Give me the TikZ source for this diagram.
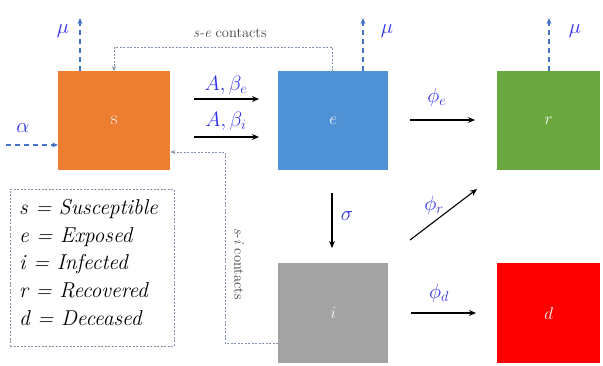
\documentclass[tikz,border=0pt]{standalone}
\usetikzlibrary{arrows.meta}
\definecolor{sorange}{HTML}{ED7D31}
\definecolor{eblue}{HTML}{4F93D6}
\definecolor{rgreen}{HTML}{6BA83F}
\definecolor{igray}{HTML}{A3A3A3}
\definecolor{dred}{HTML}{FF0000}
\definecolor{lblue}{HTML}{3030F0}
\definecolor{dblue}{HTML}{4472C4}
\definecolor{dotgray}{HTML}{8090A8}
\begin{document}
\begin{tikzpicture}[x=1pt,y=-1pt,
  box/.style={anchor=north west, inner sep=0pt, minimum height=99pt, text=white!92!gray,
    font=\fontsize{19}{21}\selectfont},
  flow/.style={-{Stealth[length=7pt,width=6pt]}, line width=1.1pt, black},
  dflow/.style={-{Stealth[length=6pt,width=5pt]}, line width=1.1pt, dblue, dash pattern=on 5pt off 4pt},
  dotline/.style={dotgray, line width=0.6pt, dash pattern=on 2pt off 1.5pt},
  dotarrow/.style={dotline, -{Stealth[length=5pt,width=4pt]}},
  lab/.style={lblue, font=\fontsize{21}{24}\selectfont, inner sep=0pt},
  small/.style={black!75, font=\fontsize{14.5}{16}\selectfont, inner sep=0pt}]
\useasboundingbox (0,0) rectangle (603,365);
% boxes
\node[box, fill=sorange, minimum width=112pt] (s) at (58,71) {s};
\node[box, fill=eblue, minimum width=110pt] (e) at (278,71) {$e$};
\node[box, fill=rgreen, minimum width=103pt] (r) at (497,71) {$r$};
\node[box, fill=igray, minimum width=110pt, minimum height=100pt] (i) at (278,263) {$i$};
\node[box, fill=dred, minimum width=103pt, minimum height=100pt] (d) at (497,263) {$d$};
% mu arrows
\coordinate (smu) at (80,18);
\coordinate (emu) at (363,18);
\coordinate (rmu) at (549,18);
\draw[dflow] (smu |- s.north) -- (smu);
\draw[dflow] (emu |- e.north) -- (emu);
\draw[dflow] (rmu |- r.north) -- (rmu);
\node[lab] (smul) at (63,31) {$\mu$};
\node[lab] (emul) at (387,31) {$\mu$};
\node[lab] (rmul) at (575,31) {$\mu$};
% alpha
\coordinate (a0) at (6,145);
\draw[dflow] (a0) -- (a0 -| s.west);
\node[lab] (al) at (23,128) {$\alpha$};
% s-e contacts
\coordinate (se1) at (332,47);
\coordinate (se2) at (114,47);
\draw[dotarrow] (se1 |- e.north) -- (se1) -- (se2) -- (se2 |- s.north);
\node[small] (sel) at (230,33) {\textit{s-e} contacts};
% s-i contacts
\coordinate (si1) at (225,343);
\coordinate (si2) at (225,152);
\draw[dotarrow] (si1 -| i.west) -- (si1) -- (si2) -- (si2 -| s.east);
\node[small, rotate=-90] (sil) at (239,264) {\textit{s-i} contacts};
% A beta arrows
\coordinate (b1) at (194,99);
\coordinate (b2) at (194,137);
\draw[flow] (b1) -- (b1 -| 259,0);
\draw[flow] (b2) -- (b2 -| 259,0);
\node[lab] (bel) at (226,85) {$A,\beta_e$};
\node[lab] (bil) at (226,121) {$A,\beta_i$};
% phi_e
\coordinate (pe1) at (410,120);
\coordinate (pe2) at (475,120);
\draw[flow] (pe1) -- (pe2);
\node[lab] (pel) at (437,97) {$\phi_e$};
% sigma
\coordinate (sg1) at (332,193);
\coordinate (sg2) at (332,248);
\draw[flow] (sg1) -- (sg2);
\node[lab] (sgl) at (347,216) {$\sigma$};
% phi_r
\coordinate (pr1) at (410,240);
\coordinate (pr2) at (477,189);
\draw[flow] (pr1) -- (pr2);
\node[lab] (prl) at (434,205) {$\phi_r$};
% phi_d
\coordinate (pd1) at (411,313);
\coordinate (pd2) at (476,313);
\draw[flow] (pd1) -- (pd2);
\node[lab] (pdl) at (439,293) {$\phi_d$};
% legend
\node[draw=dotgray, line width=0.6pt, dash pattern=on 2pt off 1.5pt, anchor=north west,
  minimum width=164pt, minimum height=157pt, inner sep=0pt] (leg) at (10,189) {};
\node[anchor=north west, align=left, inner sep=0pt, font=\fontsize{21.5}{27.7}\selectfont\itshape]
  (legt) at (19,199) {s = Susceptible\\ e = Exposed\\ i = Infected\\ r = Recovered\\ d = Deceased};
\end{tikzpicture}
\end{document}
